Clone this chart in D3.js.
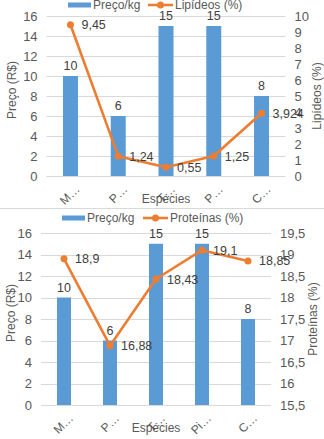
<!DOCTYPE html>
<html>
<head>
<meta charset="utf-8">
<script src="https://cdn.jsdelivr.net/npm/d3@7"></script>
<style>
  body { margin: 0; background: #fff; }
  svg { display: block; font-family: "Liberation Sans", Arial, sans-serif; }
</style>
</head>
<body>
<div id="wrapper"></div>
<script>
// data
const especies1 = ["M…", "P…", "T…", "P…", "C…"]
const especies2 = ["M…", "P…", "T…", "Pi…", "C…"]
const preco = [10, 6, 15, 15, 8]
const lipideos = [9.45, 1.24, 0.55, 1.25, 3.924]
const proteinas = [18.9, 16.88, 18.43, 19.1, 18.85]
const lipLabels = ["9,45", "1,24", "0,55", "1,25", "3,924"]
const protLabels = ["18,9", "16,88", "18,43", "19,1", "18,85"]
const leftTicks = [0, 2, 4, 6, 8, 10, 12, 14, 16]
const lipTicks = [0, 1, 2, 3, 4, 5, 6, 7, 8, 9, 10]
const protTicks = [15.5, 16, 16.5, 17, 17.5, 18, 18.5, 19, 19.5]

const blue = "#5b9bd5"
const orange = "#ed7d31"
const grid = "#d9d9d9"
const tickColor = "#595959"
const labelColor = "#404040"

const svg = d3.select("#wrapper")
    .append("svg")
    .attr("width", 324)
    .attr("height", 439);

// divider between the two charts
svg.append("line")
    .attr("x1", 0).attr("x2", 324)
    .attr("y1", 208.5).attr("y2", 208.5)
    .attr("stroke", grid);

function drawChart(cfg) {
    const g = svg.append("g");

    const x = d3.scaleBand()
        .domain(d3.range(cfg.cats.length))
        .range([cfg.left, cfg.right]);

    const yL = d3.scaleLinear().domain([0, 16]).range([cfg.bottom, cfg.top]);
    const yR = d3.scaleLinear().domain(cfg.rDomain).range([cfg.bottom, cfg.top]);

    // grid
    g.append("g")
        .selectAll("line")
        .data(leftTicks)
        .enter()
        .append("line")
        .attr("x1", cfg.left).attr("x2", cfg.right)
        .attr("y1", d => Math.round(yL(d)) + 0.5)
        .attr("y2", d => Math.round(yL(d)) + 0.5)
        .attr("stroke", grid);

    // left axis
    const axL = g.append("g")
        .attr("transform", `translate(${cfg.left - 9},0)`)
        .call(d3.axisLeft(yL).tickValues(leftTicks).tickSize(0).tickPadding(0));
    axL.select(".domain").remove();
    axL.selectAll("text").attr("fill", tickColor).attr("font-size", "13px")
        .attr("font-family", "Liberation Sans, Arial, sans-serif");

    // right axis
    const axR = g.append("g")
        .attr("transform", `translate(${cfg.right + 9},0)`)
        .call(d3.axisRight(yR).tickValues(cfg.rTicks).tickSize(0).tickPadding(0)
            .tickFormat(d => String(d).replace(".", ",")));
    axR.select(".domain").remove();
    axR.selectAll("text").attr("fill", tickColor).attr("font-size", "13px")
        .attr("font-family", "Liberation Sans, Arial, sans-serif");

    // bars
    const bw = cfg.barW;
    g.append("g")
        .selectAll("rect")
        .data(preco)
        .enter()
        .append("rect")
        .attr("x", (d, i) => x(i) + x.bandwidth() / 2 - bw / 2)
        .attr("y", d => yL(d))
        .attr("width", bw)
        .attr("height", d => cfg.bottom - yL(d))
        .attr("fill", blue);

    // bottom axis line
    g.append("line")
        .attr("x1", cfg.left).attr("x2", cfg.right)
        .attr("y1", cfg.bottom + 0.5).attr("y2", cfg.bottom + 0.5)
        .attr("stroke", grid);

    // bar labels
    g.append("g")
        .selectAll("text")
        .data(preco)
        .enter()
        .append("text")
        .attr("x", (d, i) => x(i) + x.bandwidth() / 2)
        .attr("y", d => yL(d) - 6)
        .attr("text-anchor", "middle")
        .attr("fill", labelColor)
        .attr("font-size", "12.5px")
        .text(d => d);

    // line
    const line = d3.line()
        .x((d, i) => x(i) + x.bandwidth() / 2)
        .y(d => yR(d));
    g.append("path")
        .datum(cfg.series)
        .attr("d", line)
        .attr("fill", "none")
        .attr("stroke", orange)
        .attr("stroke-width", 2.6)
        .attr("stroke-linejoin", "round");

    g.append("g")
        .selectAll("circle")
        .data(cfg.series)
        .enter()
        .append("circle")
        .attr("cx", (d, i) => x(i) + x.bandwidth() / 2)
        .attr("cy", d => yR(d))
        .attr("r", 3.5)
        .attr("fill", orange);

    g.append("g")
        .selectAll("text")
        .data(cfg.series)
        .enter()
        .append("text")
        .attr("x", (d, i) => x(i) + x.bandwidth() / 2 + 11)
        .attr("y", d => yR(d) + 4.5)
        .attr("fill", labelColor)
        .attr("font-size", "12.5px")
        .text((d, i) => cfg.seriesLabels[i]);

    // category labels, rotated
    g.append("g")
        .selectAll("text")
        .data(cfg.cats)
        .enter()
        .append("text")
        .attr("transform", (d, i) => `translate(${x(i) + x.bandwidth() / 2 + 4},${cfg.bottom + 8}) rotate(-45)`)
        .attr("text-anchor", "end")
        .attr("dy", "0.7em")
        .attr("fill", tickColor)
        .attr("font-size", "12px")
        .text(d => d);

    // axis titles
    g.append("text")
        .attr("x", (cfg.left + cfg.right) / 2)
        .attr("y", cfg.bottom + 27)
        .attr("text-anchor", "middle")
        .attr("fill", tickColor)
        .attr("font-size", "12px")
        .text("Espécies");

    g.append("text")
        .attr("transform", `translate(${cfg.lTitleX},${(cfg.top + cfg.bottom) / 2 - 6}) rotate(-90)`)
        .attr("text-anchor", "middle")
        .attr("fill", tickColor)
        .attr("font-size", "12px")
        .text("Preço (R$)");

    g.append("text")
        .attr("transform", `translate(${cfg.rTitleX},${(cfg.top + cfg.bottom) / 2}) rotate(-90)`)
        .attr("text-anchor", "middle")
        .attr("fill", tickColor)
        .attr("font-size", "12px")
        .text(cfg.seriesName);

    // legend
    const lg = g.append("g").attr("transform", `translate(${cfg.legendX},${cfg.legendY})`);
    lg.append("rect")
        .attr("x", 0).attr("y", -2.5)
        .attr("width", 23).attr("height", 5)
        .attr("fill", blue);
    lg.append("text")
        .attr("x", 25).attr("y", 4)
        .attr("fill", tickColor)
        .attr("font-size", "12px")
        .text("Preço/kg");
    lg.append("line")
        .attr("x1", cfg.legendGap).attr("x2", cfg.legendGap + 25)
        .attr("y1", 0).attr("y2", 0)
        .attr("stroke", orange)
        .attr("stroke-width", 2.6);
    lg.append("circle")
        .attr("cx", cfg.legendGap + 12.5).attr("cy", 0)
        .attr("r", 3.5)
        .attr("fill", orange);
    lg.append("text")
        .attr("x", cfg.legendGap + 27).attr("y", 4)
        .attr("fill", tickColor)
        .attr("font-size", "12px")
        .text(cfg.seriesName);
}

drawChart({
    cats: especies1,
    series: lipideos,
    seriesLabels: lipLabels,
    seriesName: "Lipídeos (%)",
    rDomain: [0, 10],
    rTicks: lipTicks,
    left: 46.6, right: 285.4, top: 16, bottom: 176,
    barW: 15,
    lTitleX: 16, rTitleX: 321,
    legendX: 68, legendY: 5, legendGap: 80
});

drawChart({
    cats: especies2,
    series: proteinas,
    seriesLabels: protLabels,
    seriesName: "Proteínas (%)",
    rDomain: [15.5, 19.5],
    rTicks: protTicks,
    left: 41, right: 271, top: 233, bottom: 405,
    barW: 14,
    lTitleX: 15, rTitleX: 317,
    legendX: 62, legendY: 218, legendGap: 81
});
</script>
</body>
</html>
